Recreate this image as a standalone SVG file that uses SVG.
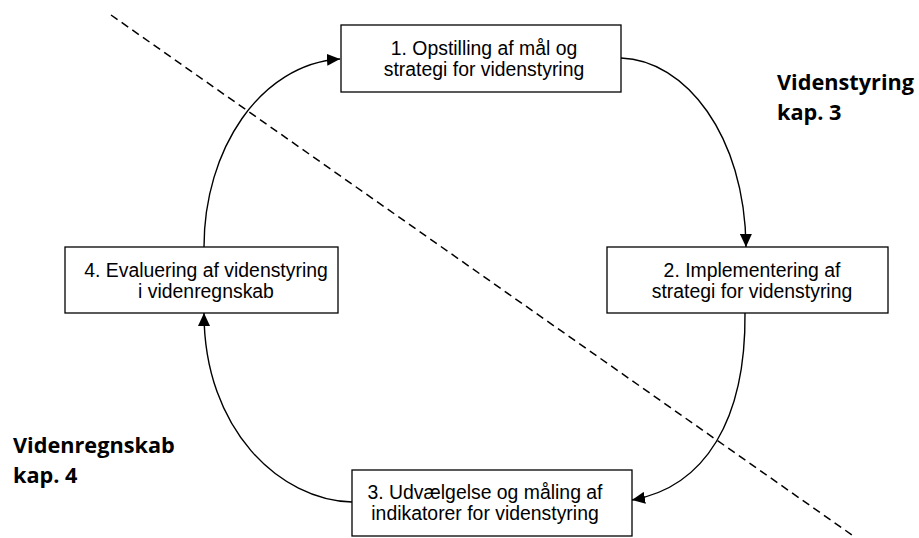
<svg xmlns="http://www.w3.org/2000/svg" width="919" height="538" viewBox="0 0 919 538">
<defs>
<style>
.box{fill:#fff;stroke:#000;stroke-width:1.3}
.t{font-family:"Liberation Sans",Arial,sans-serif;font-size:19.4px;fill:#000;text-anchor:middle}
.lab{font-family:"Open Sans","Noto Sans",sans-serif;font-weight:700;font-size:21.7px;fill:#000}
.c{fill:none;stroke:#000;stroke-width:1.4}
.dash{fill:none;stroke:#000;stroke-width:1.5;stroke-dasharray:8 5}
</style>
<marker id="ah" markerUnits="userSpaceOnUse" markerWidth="14" markerHeight="12" refX="13" refY="6" orient="auto">
<path d="M0,0 L13,6 L0,12 Z" fill="#000"/>
</marker>
</defs>
<rect width="919" height="538" fill="#fff"/>
<g id="connectors">
<line class="dash" x1="111" y1="15" x2="852" y2="535"/>
<path class="c" d="M621,58 C685,60 745,135 746,247" marker-end="url(#ah)"/>
<path class="c" d="M745,313 C746,420 705,487 632,500" marker-end="url(#ah)"/>
<path class="c" d="M352,502 C280,500 204,430 204,313" marker-end="url(#ah)"/>
<path class="c" d="M204,247 C204,150 260,64 340,59" marker-end="url(#ah)"/>
</g>
<g id="node1">
<rect class="box" x="341" y="25" width="280" height="67"/>
<text class="t" x="484" y="55">1. Opstilling af mål og</text>
<text class="t" x="484" y="76">strategi for videnstyring</text>
</g>
<g id="node2">
<rect class="box" x="607" y="247" width="281" height="66"/>
<text class="t" x="752" y="277">2. Implementering af</text>
<text class="t" x="752" y="298">strategi for videnstyring</text>
</g>
<g id="node3">
<rect class="box" x="352" y="470" width="280" height="66"/>
<text class="t" x="485" y="499">3. Udvælgelse og måling af</text>
<text class="t" x="485" y="520">indikatorer for videnstyring</text>
</g>
<g id="node4">
<rect class="box" x="65" y="247" width="273" height="66"/>
<text class="t" x="206" y="277">4. Evaluering af videnstyring</text>
<text class="t" x="206" y="298">i videnregnskab</text>
</g>
<g id="label-videnstyring">
<text class="lab" x="777" y="90">Videnstyring</text>
<text class="lab" x="777" y="120">kap. 3</text>
</g>
<g id="label-videnregnskab">
<text class="lab" x="13" y="453">Videnregnskab</text>
<text class="lab" x="13" y="483">kap. 4</text>
</g>
</svg>
